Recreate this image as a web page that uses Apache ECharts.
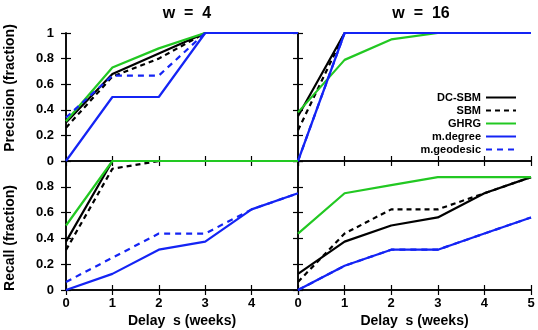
<!DOCTYPE html>
<html>
<head>
<meta charset="utf-8">
<script src="https://cdn.jsdelivr.net/npm/echarts@6/dist/echarts.min.js"></script>
<style>
  html, body { margin: 0; padding: 0; background: #fff; }
  #main { width: 538px; height: 330px; }
</style>
</head>
<body>
<div id="main"></div>
<script>
// delay s (weeks)
const delays = [0, 1, 2, 3, 4, 5];
const methods = ['DC-SBM', 'SBM', 'GHRG', 'm.degree', 'm.geodesic'];

// precision, w = 4
const precW4_dcsbm = [0.30, 0.68, 0.84, 1, 1, 1];
const precW4_sbm   = [0.26, 0.66, 0.80, 1, 1, 1];
const precW4_ghrg  = [0.31, 0.73, 0.88, 1, 1, 1];
const precW4_mdeg  = [0, 0.5, 0.5, 1, 1, 1];
const precW4_mgeo  = [0.34, 0.667, 0.667, 1, 1, 1];

// precision, w = 16
const precW16_dcsbm = [0.35, 1, 1, 1, 1, 1];
const precW16_sbm   = [0.24, 1, 1, 1, 1, 1];
const precW16_ghrg  = [0.38, 0.79, 0.95, 1, 1, 1];
const precW16_mdeg  = [0, 1, 1, 1, 1, 1];
const precW16_mgeo  = [0, 1, 1, 1, 1, 1];

// recall, w = 4
const recW4_dcsbm = [0.375, 1, 1, 1, 1, 1];
const recW4_sbm   = [0.31, 0.94, 1, 1, 1, 1];
const recW4_ghrg  = [0.5, 1, 1, 1, 1, 1];
const recW4_mdeg  = [0, 0.125, 0.3125, 0.375, 0.625, 0.75];
const recW4_mgeo  = [0.0625, 0.25, 0.4375, 0.4375, 0.625, 0.75];

// recall, w = 16
const recW16_dcsbm = [0.125, 0.375, 0.5, 0.5625, 0.75, 0.875];
const recW16_sbm   = [0.0625, 0.4375, 0.625, 0.625, 0.75, 0.875];
const recW16_ghrg  = [0.4375, 0.75, 0.8125, 0.875, 0.875, 0.875];
const recW16_mdeg  = [0, 0.1875, 0.3125, 0.3125, 0.4375, 0.5625];
const recW16_mgeo  = [0, 0.1875, 0.3125, 0.3125, 0.4375, 0.5625];

const panels = [
  [precW4_dcsbm, precW4_sbm, precW4_ghrg, precW4_mdeg, precW4_mgeo],
  [precW16_dcsbm, precW16_sbm, precW16_ghrg, precW16_mdeg, precW16_mgeo],
  [recW4_dcsbm, recW4_sbm, recW4_ghrg, recW4_mdeg, recW4_mgeo],
  [recW16_dcsbm, recW16_sbm, recW16_ghrg, recW16_mdeg, recW16_mgeo]
];

const lineLook = [
  { color: '#000000', type: 'solid' },
  { color: '#000000', type: [5, 4] },
  { color: '#22c822', type: 'solid' },
  { color: '#1424f4', type: 'solid' },
  { color: '#1424f4', type: [6, 5] }
];

const FONT = 'Liberation Sans';
const chart = echarts.init(document.getElementById('main'));

const grids = [
  { left: 66, top: 33, width: 232, height: 128 },
  { left: 298, top: 33, width: 233, height: 128 },
  { left: 66, top: 161, width: 232, height: 129 },
  { left: 298, top: 161, width: 233, height: 129 }
];

const frame = { show: true, lineStyle: { color: '#000', width: 1.5 } };
const ticks = { show: true, inside: true, length: 5, lineStyle: { color: '#000', width: 1.2 } };
const lab = { color: '#000', fontFamily: FONT, fontWeight: 'bold', fontSize: 13 };

const xAxes = [], yAxes = [];
grids.forEach((g, i) => {
  const bottomRow = i >= 2;
  const leftCol = i % 2 === 0;
  xAxes.push({
    type: 'value', gridIndex: i, min: 0, max: 5, interval: 1,
    axisLine: frame, axisTick: ticks, splitLine: { show: false },
    name: bottomRow ? 'Delay  s (weeks)' : '',
    nameLocation: 'middle', nameGap: 24,
    nameTextStyle: { color: '#000', fontFamily: FONT, fontWeight: 'bold', fontSize: 14 },
    axisLabel: Object.assign({ show: bottomRow, margin: 7, showMaxLabel: !leftCol }, lab)
  });
  yAxes.push({
    type: 'value', gridIndex: i, min: 0, max: 1, interval: 0.2,
    axisLine: frame, axisTick: ticks, splitLine: { show: false },
    axisLabel: Object.assign({ show: leftCol, margin: 12, showMaxLabel: !bottomRow }, lab)
  });
});
// mirrored ticks on top and right edges
grids.forEach((g, i) => {
  xAxes.push({
    type: 'value', gridIndex: i, position: 'top', min: 0, max: 5, interval: 1,
    axisLine: frame, axisTick: ticks, splitLine: { show: false }, axisLabel: { show: false }
  });
  yAxes.push({
    type: 'value', gridIndex: i, position: 'right', min: 0, max: 1, interval: 0.2,
    axisLine: frame, axisTick: ticks, splitLine: { show: false }, axisLabel: { show: false }
  });
});

const series = [];
panels.forEach((vals, p) => {
  vals.forEach((arr, m) => {
    series.push({
      name: methods[m],
      type: 'line',
      xAxisIndex: p,
      yAxisIndex: p,
      symbol: 'none',
      animation: false,
      lineStyle: { color: lineLook[m].color, type: lineLook[m].type, width: 2.2 },
      itemStyle: { color: lineLook[m].color },
      data: delays.map((d, k) => [d, arr[k]])
    });
  });
});

const option = {
  animation: false,
  title: [
    { text: 'w  =  4', left: 182, top: 1, textAlign: 'center',
      textStyle: { color: '#000', fontFamily: FONT, fontWeight: 'bold', fontSize: 16 } },
    { text: 'w  =  16', left: 416, top: 1, textAlign: 'center',
      textStyle: { color: '#000', fontFamily: FONT, fontWeight: 'bold', fontSize: 16 } }
  ],
  legend: {
    data: methods,
    orient: 'vertical',
    align: 'right',
    right: 21,
    top: 92,
    padding: 0,
    itemWidth: 30,
    itemHeight: 10,
    itemGap: 2,
    selectedMode: false,
    itemStyle: { opacity: 0 },
    textStyle: { color: '#000', fontFamily: FONT, fontWeight: 'bold', fontSize: 11, lineHeight: 11 }
  },
  grid: grids,
  xAxis: xAxes,
  yAxis: yAxes,
  series: series,
  graphic: [
    { type: 'text', x: 10, y: 88, rotation: Math.PI / 2,
      style: { text: 'Precision (fraction)', fill: '#000', font: 'bold 14px "Liberation Sans"',
               align: 'center', verticalAlign: 'middle' } },
    { type: 'text', x: 10, y: 238, rotation: Math.PI / 2,
      style: { text: 'Recall (fraction)', fill: '#000', font: 'bold 14px "Liberation Sans"',
               align: 'center', verticalAlign: 'middle' } }
  ]
};

chart.setOption(option);
</script>
</body>
</html>
